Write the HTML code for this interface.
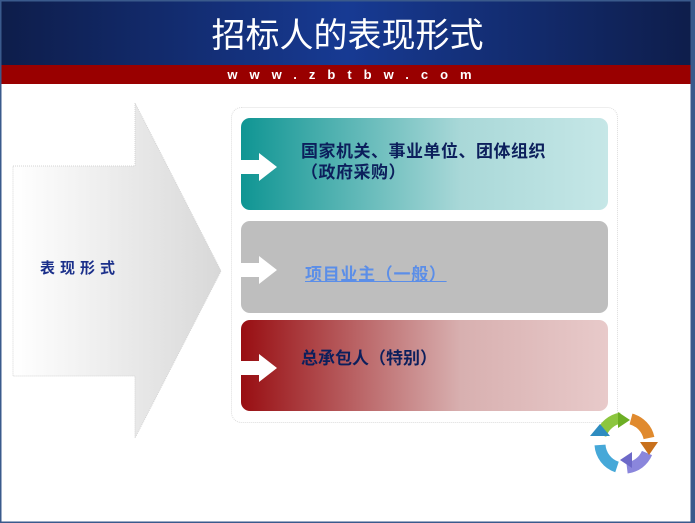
<!DOCTYPE html>
<html><head><meta charset="utf-8"><style>
html,body{margin:0;padding:0;width:695px;height:523px;overflow:hidden;background:#fff}
body{position:relative;font-family:"Liberation Sans","Noto Sans CJK SC",sans-serif}
.t{position:absolute;white-space:nowrap}
</style></head><body>
<svg width="695" height="523" style="position:absolute;left:0;top:0">
<defs>
<linearGradient id="hd" x1="0" x2="1" y1="0" y2="0"><stop offset="0" stop-color="#0e1d4a"/><stop offset="0.5" stop-color="#173a93"/><stop offset="1" stop-color="#0e1d4a"/></linearGradient>
<linearGradient id="ar" x1="0" x2="1"><stop offset="0" stop-color="#ffffff"/><stop offset="1" stop-color="#d8d8d8"/></linearGradient>
<linearGradient id="g1" x1="0" x2="1"><stop offset="0" stop-color="#0f9593"/><stop offset="0.6" stop-color="#a9d8d8"/><stop offset="1" stop-color="#c6e7e7"/></linearGradient>
<linearGradient id="g3" x1="0" x2="1"><stop offset="0" stop-color="#980e12"/><stop offset="0.6" stop-color="#d8b0b0"/><stop offset="1" stop-color="#e8caca"/></linearGradient>
</defs>
<rect x="0" y="0" width="695" height="66" fill="url(#hd)"/>
<rect x="0" y="65" width="695" height="19" fill="#990000"/>
<polygon points="13,166 135,166 135,103 221,271 135,438 135,376 13,376" fill="url(#ar)" stroke="#d4d4d4" stroke-dasharray="1,1"/>
<rect x="231.5" y="107.5" width="386" height="315" rx="10" fill="#fff" stroke="#ddd" stroke-dasharray="1,1"/>
<rect x="241" y="118" width="367" height="92" rx="9" fill="url(#g1)"/>
<rect x="241" y="221" width="367" height="92" rx="9" fill="#bebebe"/>
<rect x="241" y="320" width="367" height="91" rx="9" fill="url(#g3)"/>
<g fill="#fff">
<polygon points="241,160 259,160 259,153 277,167 259,181 259,174 241,174"/>
<polygon points="241,263 259,263 259,256 277,270 259,284 259,277 241,277"/>
<polygon points="241,361 259,361 259,354 277,368 259,382 259,375 241,375"/>
</g>
<g transform="translate(625,443)" fill="none" stroke-width="11">
<path d="M-24,-8 A25,25 0 0 1 -4,-25" stroke="#8cc63f"/>
<path d="M6,-24 A25,25 0 0 1 24,-5" stroke="#e08a2e"/>
<path d="M22,10 A25,25 0 0 1 2,25" stroke="#8a86dc"/>
<path d="M-8,24 A25,25 0 0 1 -25,2" stroke="#46a8d8"/>
</g>
<g>
<polygon points="618,412 630,420 618,428" fill="#6cae24"/>
<polygon points="640,442 658,442 649,455" fill="#c8701c"/>
<polygon points="632,468 620,460 632,452" fill="#6d69c8"/>
<polygon points="590,436 600,424 610,436" fill="#2e8cc0"/>
</g>
<rect x="0" y="0" width="695" height="523" fill="none" stroke="#3a5a8c" stroke-width="3"/>
<line x1="692" y1="0" x2="692" y2="523" stroke="#3a5a8c" stroke-width="3"/>
</svg>
<div class="t" style="left:0;width:695px;top:15px;text-align:center;color:#fff;font-size:34px;line-height:42px">招标人的表现形式</div>
<div class="t" style="left:8px;width:695px;top:66px;text-align:center;color:#fff;font-size:13px;font-weight:bold;letter-spacing:12px;line-height:17px">www.zbtbw.com</div>
<div class="t" style="left:40px;top:257px;color:#1a2f8a;font-size:15px;font-weight:bold;letter-spacing:5px">表现形式</div>
<div class="t" style="left:301px;top:141px;color:#0c1f5c;font-size:17px;font-weight:bold;line-height:21px;letter-spacing:0.5px">国家机关、事业单位、团体组织<br>（政府采购）</div>
<div class="t" style="left:305px;top:260px;color:#5b8ee8;font-size:17px;font-weight:bold;letter-spacing:0.7px;text-decoration:underline">项目业主（一般）</div>
<div class="t" style="left:301px;top:344px;color:#0c1f5c;font-size:17px;font-weight:bold">总承包人（特别）</div>
</body></html>
